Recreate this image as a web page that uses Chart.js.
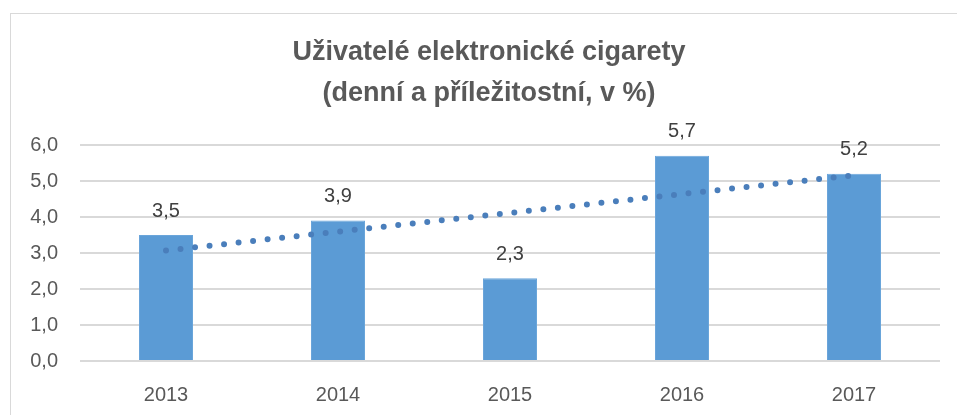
<!DOCTYPE html>
<html>
<head>
<meta charset="utf-8">
<script src="https://cdn.jsdelivr.net/npm/chart.js@4/dist/chart.umd.min.js"></script>
<style>
  html, body { margin: 0; padding: 0; background: #ffffff; overflow: hidden; }
  #frame { position: absolute; left: 10px; top: 13px; width: 1000px; height: 500px; border: 1px solid #d9d9d9; box-sizing: border-box; }
  #wrap { position: absolute; left: 0; top: 0; width: 978px; height: 415px; }
</style>
</head>
<body>
<div id="frame"></div>
<div id="wrap"><canvas id="c" width="978" height="415"></canvas></div>
<script>
const categories = ['2013', '2014', '2015', '2016', '2017'];
const values = [3.5, 3.9, 2.3, 5.7, 5.2];
const trendValues = [3.07, null, null, null, 5.16];
const yTicks = [0, 1, 2, 3, 4, 5, 6];
const titleLines = ['Uživatelé elektronické cigarety', '(denní a příležitostní, v %)'];

const FONT = "'Liberation Sans', Arial, sans-serif";
const fmt = v => v.toFixed(1).replace('.', ',');

const barLabels = {
  id: 'barLabels',
  afterDatasetsDraw(chart) {
    const ctx = chart.ctx;
    const meta = chart.getDatasetMeta(1);
    ctx.save();
    ctx.font = '20px ' + FONT;
    ctx.fillStyle = '#404040';
    ctx.textAlign = 'center';
    ctx.textBaseline = 'middle';
    meta.data.forEach((el, i) => {
      ctx.fillText(fmt(values[i]), el.x, el.y - 24);
    });
    ctx.restore();
  }
};

new Chart(document.getElementById('c'), {
  data: {
    labels: categories,
    datasets: [
      {
        type: 'line',
        data: trendValues,
        spanGaps: true,
        borderColor: '#4a7ebb',
        borderWidth: 6,
        borderDash: [0, 14.6],
        borderCapStyle: 'round',
        pointRadius: 0,
        fill: false,
        order: 0
      },
      {
        type: 'bar',
        data: values,
        backgroundColor: '#5b9bd5',
        borderColor: '#6aa5da',
        borderWidth: 1,
        categoryPercentage: 1,
        barPercentage: 0.314,
        order: 1
      }
    ]
  },
  options: {
    responsive: false,
    animation: false,
    layout: { padding: { left: 0, right: 0, top: 0, bottom: 0 } },
    plugins: {
      legend: { display: false },
      tooltip: { enabled: false },
      title: {
        display: true,
        text: titleLines,
        color: '#595959',
        font: { family: FONT, size: 27, weight: 'bold', lineHeight: 41 / 27 },
        padding: { top: 32, bottom: 31 }
      }
    },
    scales: {
      x: {
        grid: { display: false, drawTicks: false },
        border: { display: false },
        ticks: { color: '#595959', font: { family: FONT, size: 20 }, padding: 22 },
        afterFit(scale) { scale.height = 54; }
      },
      y: {
        min: 0,
        max: 6,
        afterBuildTicks(scale) { scale.ticks = yTicks.map(v => ({ value: v })); },
        grid: { color: '#d9d9d9', lineWidth: 2, drawTicks: false },
        border: { display: false },
        ticks: { color: '#595959', font: { family: FONT, size: 20 }, padding: 22, callback: v => fmt(v) },
        afterFit(scale) { scale.width = 80; }
      },
      yRight: {
        position: 'right',
        min: 0,
        max: 6,
        grid: { display: false, drawTicks: false },
        border: { display: false },
        ticks: { display: false },
        afterFit(scale) { scale.width = 38; }
      }
    }
  },
  plugins: [barLabels]
});
</script>
</body>
</html>
